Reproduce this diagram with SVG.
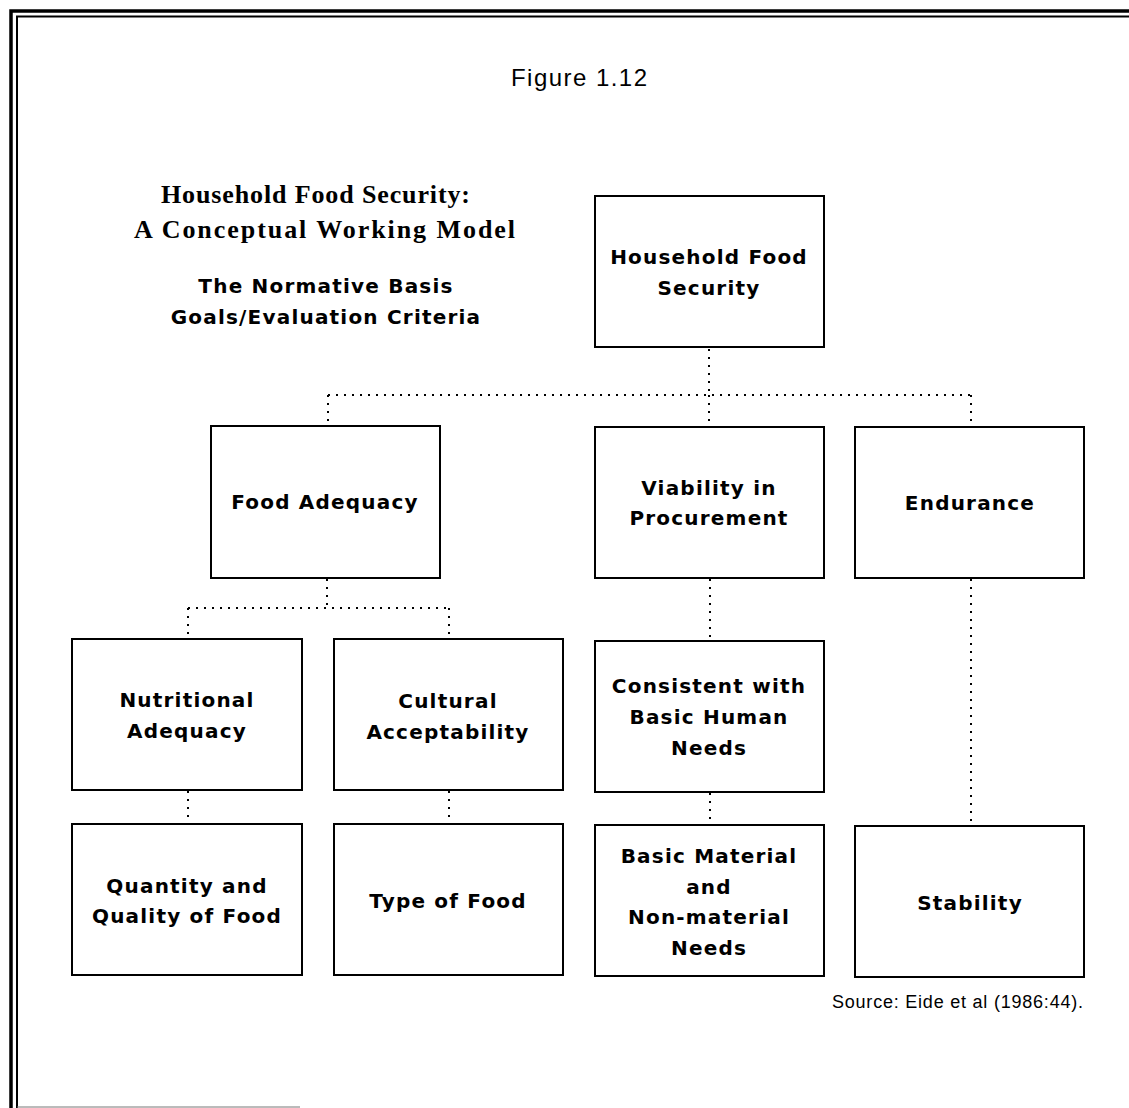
<svg xmlns="http://www.w3.org/2000/svg" width="1129" height="1108" viewBox="0 0 1129 1108">
<style>
.box{fill:#fff;stroke:#000;stroke-width:2}
.t{font-family:"DejaVu Sans","Liberation Sans",sans-serif;font-weight:bold;font-size:20px;letter-spacing:1.2px;text-anchor:middle;fill:#000}
.dot{fill:none;stroke:#000;stroke-width:2;stroke-dasharray:2 6}
.title{font-family:"Liberation Serif",serif;font-weight:bold;font-size:26px;fill:#000}
</style>
<rect width="1129" height="1108" fill="#fff"/>
<g id="border" fill="none" stroke="#000">
<path d="M11,1108 V11 H1129" stroke-width="3.5"/>
<path d="M17,1108 V16.5 H1129" stroke-width="2"/>
<path d="M17,1107 H300" stroke-width="1" stroke="#777"/>
</g>
<text x="511" y="86" font-family="Liberation Sans,sans-serif" font-size="24" textLength="136" lengthAdjust="spacing">Figure 1.12</text>
<g id="heading">
<text class="title" x="161" y="203" textLength="309" lengthAdjust="spacing">Household Food Security:</text>
<text class="title" x="134" y="238" textLength="381" lengthAdjust="spacing">A Conceptual Working Model</text>
<text class="t" x="326" y="293">The Normative Basis</text>
<text class="t" x="326" y="324">Goals/Evaluation Criteria</text>
</g>
<g id="connectors">
<path class="dot" d="M709,349 V395"/>
<path class="dot" d="M328,395 H971"/>
<path class="dot" d="M328,395 V426 M709,395 V427 M971,395 V427"/>
<path class="dot" d="M327,579 V608"/>
<path class="dot" d="M188,608 H449"/>
<path class="dot" d="M188,608 V639 M449,608 V639"/>
<path class="dot" d="M188,791 V824 M449,791 V824"/>
<path class="dot" d="M710,579 V641 M710,793 V825"/>
<path class="dot" d="M971,579 V826"/>
</g>
<g id="n-hfs"><rect class="box" x="595" y="196" width="229" height="151"/><text class="t" x="709" y="264">Household Food</text><text class="t" x="709" y="295">Security</text></g>
<g id="n-adequacy"><rect class="box" x="211" y="426" width="229" height="152"/><text class="t" x="325" y="509">Food Adequacy</text></g>
<g id="n-viability"><rect class="box" x="595" y="427" width="229" height="151"/><text class="t" x="709" y="495">Viability in</text><text class="t" x="709" y="525">Procurement</text></g>
<g id="n-endurance"><rect class="box" x="855" y="427" width="229" height="151"/><text class="t" x="970" y="510">Endurance</text></g>
<g id="n-nutritional"><rect class="box" x="72" y="639" width="230" height="151"/><text class="t" x="187" y="707">Nutritional</text><text class="t" x="187" y="738">Adequacy</text></g>
<g id="n-cultural"><rect class="box" x="334" y="639" width="229" height="151"/><text class="t" x="448" y="708">Cultural</text><text class="t" x="448" y="739">Acceptability</text></g>
<g id="n-consistent"><rect class="box" x="595" y="641" width="229" height="151"/><text class="t" x="709" y="693">Consistent with</text><text class="t" x="709" y="724">Basic Human</text><text class="t" x="709" y="755">Needs</text></g>
<g id="n-quantity"><rect class="box" x="72" y="824" width="230" height="151"/><text class="t" x="187" y="893">Quantity and</text><text class="t" x="187" y="923">Quality of Food</text></g>
<g id="n-type"><rect class="box" x="334" y="824" width="229" height="151"/><text class="t" x="448" y="908">Type of Food</text></g>
<g id="n-basic"><rect class="box" x="595" y="825" width="229" height="151"/><text class="t" x="709" y="863">Basic Material</text><text class="t" x="709" y="894">and</text><text class="t" x="709" y="924">Non-material</text><text class="t" x="709" y="955">Needs</text></g>
<g id="n-stability"><rect class="box" x="855" y="826" width="229" height="151"/><text class="t" x="970" y="910">Stability</text></g>
<text x="832" y="1008" font-family="Liberation Sans,sans-serif" font-size="18" textLength="251" lengthAdjust="spacing">Source: Eide et al (1986:44).</text>
</svg>
